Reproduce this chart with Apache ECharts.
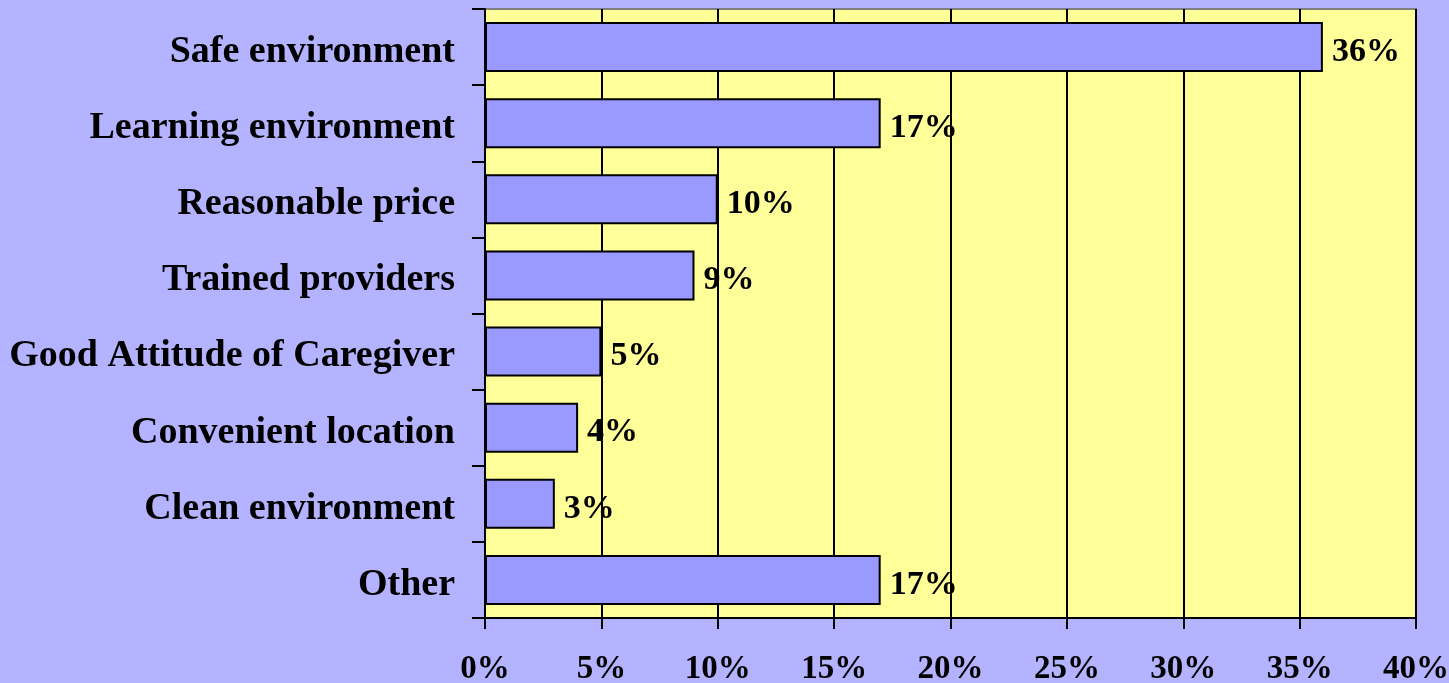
<!DOCTYPE html>
<html>
<head>
<meta charset="utf-8">
<script src="https://cdn.jsdelivr.net/npm/echarts@6/dist/echarts.min.js"></script>
<style>
  html, body { margin: 0; padding: 0; background: #B3B3FF; }
  #chart { width: 1449px; height: 683px; }
</style>
</head>
<body>
<div id="chart"></div>
<script>
  var categories = ['Safe environment', 'Learning environment', 'Reasonable price', 'Trained providers',
    'Good Attitude of Caregiver', 'Convenient location', 'Clean environment', 'Other'];
  var values = [36, 17, 10, 9, 5, 4, 3, 17];

  var font = '"Liberation Serif", "Times New Roman", serif';
  var chart = echarts.init(document.getElementById('chart'));
  chart.setOption({
    backgroundColor: '#B3B3FF',
    animation: false,
    grid: {
      left: 485, right: 33, top: 9, bottom: 65,
      outerBoundsMode: 'none',
      containLabel: false,
      show: true,
      backgroundColor: '#FFFF99',
      borderColor: '#808080',
      borderWidth: 2
    },
    xAxis: {
      type: 'value',
      min: 0, max: 40, interval: 5,
      axisLine: { show: true, lineStyle: { color: '#000', width: 2 } },
      axisTick: { show: true, length: 11, lineStyle: { color: '#000', width: 2 } },
      splitLine: { show: true, lineStyle: { color: '#000', width: 2 } },
      axisLabel: {
        formatter: '{value}%',
        color: '#000', fontFamily: font, fontWeight: 'bold', fontSize: 33,
        margin: 35
      }
    },
    yAxis: {
      type: 'category',
      inverse: true,
      data: categories,
      axisLine: { show: true, lineStyle: { color: '#000', width: 2 } },
      axisTick: { show: true, length: 13, lineStyle: { color: '#000', width: 2 } },
      splitLine: { show: false },
      axisLabel: {
        margin: 30,
        formatter: function (v) { return '{a|' + v + '}'; },
        rich: {
          a: {
            color: '#000', fontFamily: font, fontWeight: 'bold', fontSize: 38,
            padding: [10, 0, 0, 0]
          }
        }
      }
    },
    series: [{
      type: 'bar',
      data: values,
      barWidth: 50,
      itemStyle: { color: '#9999FF', borderColor: '#000', borderWidth: 2 },
      label: {
        show: true,
        position: 'right',
        distance: 9,
        offset: [0, 5],
        formatter: '{c}%',
        color: '#000', fontFamily: font, fontWeight: 'bold', fontSize: 34
      }
    }]
  });
</script>
</body>
</html>
